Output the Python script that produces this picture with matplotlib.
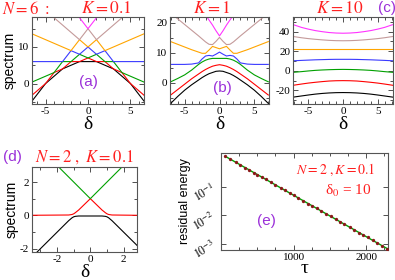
import numpy as np
import matplotlib
matplotlib.use("Agg")
import matplotlib.pyplot as plt
from matplotlib.ticker import MultipleLocator, NullLocator

plt.rcParams["font.family"] = ["Liberation Serif", "DejaVu Serif"]
plt.rcParams["mathtext.fontset"] = "stix"
plt.rcParams["axes.unicode_minus"] = False

# ---- data ----
colors = ["black", "red", "#00a000", "#3a3aff", "#ffa500", "#c49a9a", "#ff33ff"]

# (a) N=6, K=0.1
delta_a = [-7, -5, -4, -3, -2, -1, 0, 1, 2, 3, 4, 5, 7]
levels_a = [
    [-6, 0, 2, 4, 5, 6, 6, 6, 5, 4, 2, 0, -6],
    [-4, 0, 3, 4, 6, 6, 7, 6, 6, 4, 3, 0, -4],
    [0, 2, 3, 6, 6, 8, 7, 8, 6, 6, 3, 2, 0],
    [6, 6, 6, 6, 9, 8, 10, 8, 9, 6, 6, 6, 6],
    [14, 12, 11, 10, 9, 12, 10, 12, 9, 10, 11, 12, 14],
    [24, 20, 18, 16, 14, 12, 15, 12, 14, 16, 18, 20, 24],
    [36, 30, 27, 24, 21, 18, 15, 18, 21, 24, 27, 30, 36],
]

# (b) N=6, K=1
delta_b = [-7, -6, -5, -4, -3, -2.5, -2, -1.5, -1, -0.5, 0,
           0.5, 1, 1.5, 2, 2.5, 3, 4, 5, 6, 7]
levels_b = [
    [-6.8, -4.5, -2.4, -0.6, 1.0, 1.8, 2.5, 3.1, 3.5, 3.9, 4.0,
     3.9, 3.5, 3.1, 2.5, 1.8, 1.0, -0.6, -2.4, -4.5, -6.8],
    [-4.0, -2.2, -0.4, 1.4, 3.0, 3.8, 4.5, 5.1, 5.6, 5.9, 6.1,
     5.9, 5.6, 5.1, 4.5, 3.8, 3.0, 1.4, -0.4, -2.2, -4.0],
    [0.4, 1.5, 2.7, 4.3, 6.2, 7.0, 7.6, 8.0, 8.2, 8.2, 8.2,
     8.2, 8.2, 8.0, 7.6, 7.0, 6.2, 4.3, 2.7, 1.5, 0.4],
    [6.2, 6.2, 6.2, 6.3, 6.7, 8.0, 9.0, 9.2, 9.0, 9.6, 10.3,
     9.6, 9.0, 9.2, 9.0, 8.0, 6.7, 6.3, 6.2, 6.2, 6.2],
    [13.8, 12.9, 12.0, 11.1, 10.3, 9.9, 9.9, 11.0, 12.2, 11.8, 11.4,
     11.8, 12.2, 11.0, 9.9, 9.9, 10.3, 11.1, 12.0, 12.9, 13.8],
    [23.3, 21.4, 19.5, 17.6, 15.7, 14.7, 13.7, 12.9, 12.8, 13.9, 15.2,
     13.9, 12.8, 12.9, 13.7, 14.7, 15.7, 17.6, 19.5, 21.4, 23.3],
    [38.0, 35.0, 32.0, 28.9, 25.8, 24.2, 22.6, 21.0, 19.3, 17.4, 15.7,
     17.4, 19.3, 21.0, 22.6, 24.2, 25.8, 28.9, 32.0, 35.0, 38.0],
]

# (c) N=6, K=10
delta_c = [-7.5, -6, -5, -4, -3, -2, -1, 0, 1, 2, 3, 4, 5, 6, 7.5]
levels_c = [
    [-27.3, -25.8, -24.8, -23.9, -23.2, -22.7, -22.4, -22.3,
     -22.4, -22.7, -23.2, -23.9, -24.8, -25.8, -27.3],
    [-15.2, -13.6, -12.6, -11.8, -11.1, -10.5, -10.2, -10.1,
     -10.2, -10.5, -11.1, -11.8, -12.6, -13.6, -15.2],
    [-1.8, -0.9, -0.2, 0.4, 0.8, 1.1, 1.3, 1.4,
     1.3, 1.1, 0.8, 0.4, -0.2, -0.9, -1.8],
    [10.1, 10.6, 10.9, 11.2, 11.4, 11.6, 11.7, 11.7,
     11.7, 11.6, 11.4, 11.2, 10.9, 10.6, 10.1],
    [22.1, 22.1, 22.1, 22.1, 22.1, 22.1, 22.1, 22.1,
     22.1, 22.1, 22.1, 22.1, 22.1, 22.1, 22.1],
    [35.4, 33.8, 32.9, 32.2, 31.6, 31.1, 30.8, 30.7,
     30.8, 31.1, 31.6, 32.2, 32.9, 33.8, 35.4],
    [48.0, 44.4, 42.6, 41.1, 40.0, 39.1, 38.6, 38.4,
     38.6, 39.1, 40.0, 41.1, 42.6, 44.4, 48.0],
]

# (d) N=2, K=0.1
delta_d = [-4, -1.3, -1.1, -1.0, -0.9, -0.7, 0, 0.7, 0.9, 1.0, 1.1, 1.3, 3]
levels_d = [
    [-3.0, -0.32, -0.15, -0.09, -0.06, -0.04, -0.04, -0.04, -0.06, -0.09, -0.15, -0.32, -2.0],
    [0.0, 0.02, 0.05, 0.09, 0.16, 0.32, 1.0, 0.32, 0.16, 0.09, 0.05, 0.02, 0.0],
    [5.0, 2.3, 2.1, 2.0, 1.9, 1.7, 1.0, 1.7, 1.9, 2.0, 2.1, 2.3, 4.0],
]

# (e) residual energy vs sweep time
tau = [60, 130, 200, 260, 330, 390, 450, 500, 560, 620, 690, 750, 820, 880,
       950, 1000, 1060, 1130, 1200, 1250, 1320, 1380, 1450, 1510, 1580, 1640,
       1700, 1770, 1830, 1900, 1960, 2020, 2090, 2150, 2220, 2290]
res_energy = [1.146, 0.907, 0.718, 0.587, 0.465, 0.381, 0.311, 0.264, 0.216,
              0.177, 0.140, 0.1144, 0.0906, 0.0741, 0.0587, 0.0497, 0.0406,
              0.0322, 0.0255, 0.0216, 0.0171, 0.01396, 0.01105, 0.00905,
              0.00716, 0.00586, 0.0048, 0.0038, 0.00311, 0.00246, 0.00201,
              0.00165, 0.0013, 0.00107, 0.000845, 0.000669]
tau_ticks = [1000, 2000]

# ---- figure ----
W, H = 395, 280
fig = plt.figure(figsize=(W / 100, H / 100), dpi=100)


def box(l, t, r, b):
    return [l / W, 1 - b / H, (r - l) / W, (b - t) / H]


def style(ax):
    ax.tick_params(which="both", direction="in", top=True, right=True,
                   labelsize=8, pad=2, width=0.6, colors="#333333",
                   labelcolor="black")
    ax.tick_params(which="major", length=3.5)
    ax.tick_params(which="minor", length=2)
    for s in ax.spines.values():
        s.set_linewidth(0.8)
        s.set_color("#555555")


purple = "#9b30d9"
sans = ["Liberation Sans", "DejaVu Sans"]

ax_a = fig.add_axes(box(32, 17, 144, 104))
ax_b = fig.add_axes(box(170, 17, 269, 104))
ax_c = fig.add_axes(box(293, 17, 393, 104))
ax_d = fig.add_axes(box(32, 167, 137, 252))
ax_e = fig.add_axes(box(221, 153, 388, 250))

for ax, d, levels in [(ax_a, delta_a, levels_a), (ax_b, delta_b, levels_b),
                      (ax_c, delta_c, levels_c)]:
    for lev, c in zip(levels, colors):
        ax.plot(d, lev, color=c, lw=0.8)
    style(ax)
    ax.xaxis.set_major_locator(MultipleLocator(5))
    ax.xaxis.set_minor_locator(MultipleLocator(1))
    ax.set_xlabel("δ", fontsize=14, labelpad=0)

ax_a.set_xlim(-6.6, 6.6)
ax_a.set_ylim(-5.6, 18.2)
ax_a.yaxis.set_major_locator(MultipleLocator(10))
ax_a.yaxis.set_minor_locator(MultipleLocator(5))
ax_a.set_ylabel("spectrum", family=sans, fontsize=10, labelpad=1)

ax_b.set_xlim(-7.1, 7.1)
ax_b.set_ylim(-7, 22)
ax_b.yaxis.set_major_locator(MultipleLocator(10))
ax_b.yaxis.set_minor_locator(MultipleLocator(5))

ax_c.set_xlim(-7.2, 7.2)
ax_c.set_ylim(-34, 55)
ax_c.yaxis.set_major_locator(MultipleLocator(20))
ax_c.yaxis.set_minor_locator(MultipleLocator(10))

for lev, c in zip(levels_d, colors):
    ax_d.plot(delta_d, lev, color=c, lw=0.8)
style(ax_d)
ax_d.set_xlim(-3.5, 2.8)
ax_d.set_ylim(-2.2, 2.9)
ax_d.xaxis.set_major_locator(MultipleLocator(2))
ax_d.xaxis.set_minor_locator(MultipleLocator(1))
ax_d.yaxis.set_major_locator(MultipleLocator(2))
ax_d.yaxis.set_minor_locator(MultipleLocator(1))
ax_d.set_xlabel("δ", fontsize=14, labelpad=0)
ax_d.set_ylabel("spectrum", family=sans, fontsize=10, labelpad=1)

ax_e.plot(tau, res_energy, color="#00a000", lw=1.0, zorder=2)
ax_e.plot(tau, res_energy, "o", color="#8b1a1a", ms=2.4, mew=0, zorder=3)
ax_e.set_yscale("log")
style(ax_e)
ax_e.set_xlim(0, 2300)
ax_e.set_ylim(6e-4, 1.5)
ax_e.set_xticks(tau_ticks)
ax_e.xaxis.set_minor_locator(MultipleLocator(250))
ax_e.yaxis.set_minor_locator(NullLocator())
ax_e.set_yticks([1e-3, 1e-2, 1e-1])
ax_e.set_yticklabels([r"$10^{-3}$", r"$10^{-2}$", r"$10^{-1}$"],
                     rotation=30, fontsize=8.5)
ax_e.set_xlabel("τ", fontsize=14, labelpad=-1)
ax_e.set_ylabel("residual energy", family=sans, fontsize=9, labelpad=0)

# ---- annotations ----
red = "#ff2020"


def ftext(x, y, s, **kw):
    fig.text(x / W, 1 - y / H, s, va="center", **kw)


ftext(2, 9, r"$N = 6\ :$", color=red, fontsize=12, ha="left")
ftext(106, 9, r"$K = 0.1$", color=red, fontsize=12.5, ha="center")
ftext(212, 9, r"$K = 1$", color=red, fontsize=12.5, ha="center")
ftext(340, 9, r"$K = 10$", color=red, fontsize=12.5, ha="center")
ftext(387, 8, "(c)", color=purple, fontsize=11, ha="center", family=sans)
ftext(88, 82, "(a)", color=purple, fontsize=11, ha="center", family=sans)
ftext(222, 88, "(b)", color=purple, fontsize=11, ha="center", family=sans)
ftext(12, 157, "(d)", color=purple, fontsize=11, ha="center", family=sans)
ftext(84, 157, r"$N = 2\ ,\ K = 0.1$", color=red, fontsize=12, ha="center")
ftext(266, 221, "(e)", color=purple, fontsize=11, ha="center", family=sans)
ftext(336, 170, r"$N = 2\ , K = 0.1$", color=red, fontsize=10, ha="center")
ftext(348, 191, r"δ$_0$ = 10", color=red, fontsize=11, ha="center")

fig.savefig("out.png", dpi=100)
